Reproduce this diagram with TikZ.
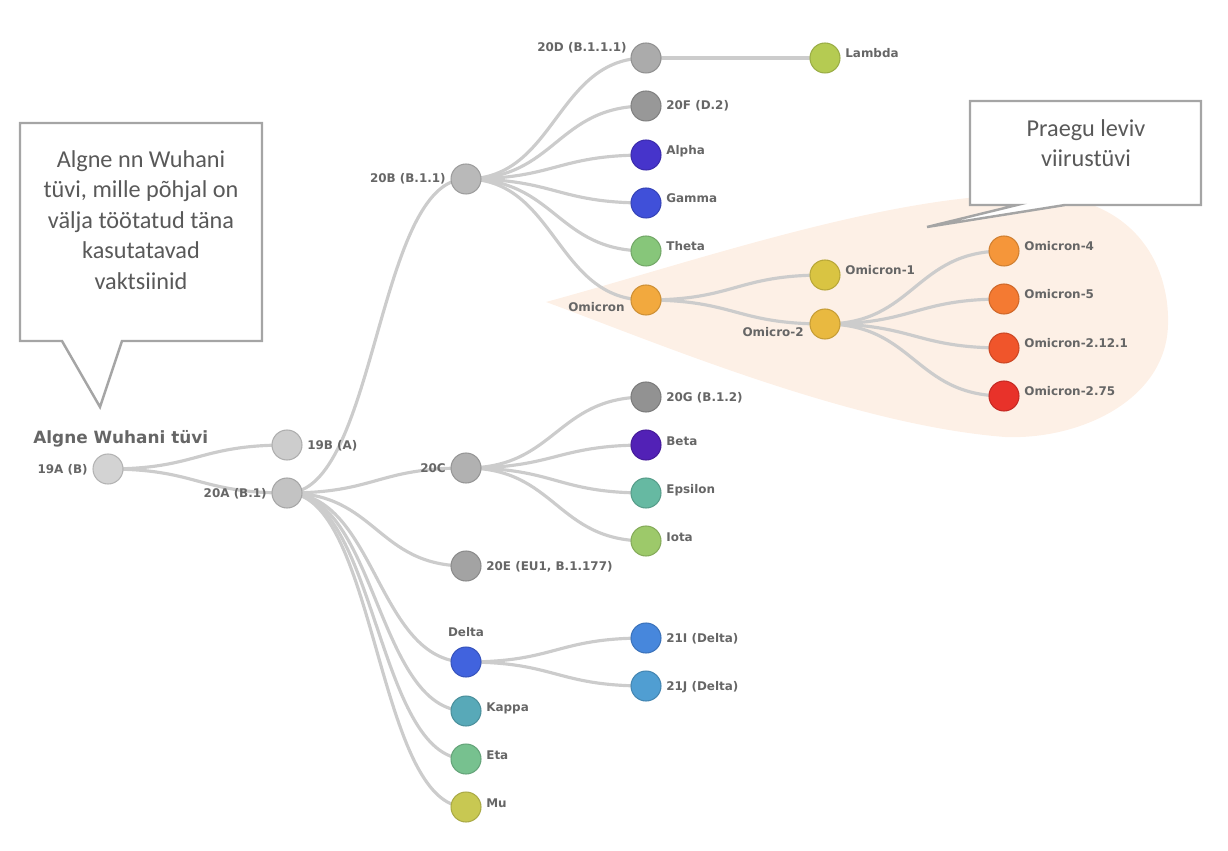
\documentclass[tikz,border=0pt]{standalone}
\usepackage{fontspec}
\newfontfamily\vfont{DejaVu Sans}
\newfontfamily\cfont{Carlito}
\usetikzlibrary{calc,backgrounds}
\definecolor{edgec}{HTML}{CCCCCC}
\definecolor{lblc}{HTML}{666666}
\definecolor{boxc}{HTML}{A5A5A5}
\definecolor{ctext}{HTML}{595959}
\definecolor{peach}{HTML}{FDF0E6}
\definecolor{cA}{HTML}{D3D3D3}
\definecolor{cB}{HTML}{CDCDCD}
\definecolor{cAA}{HTML}{C3C3C3}
\definecolor{cBB}{HTML}{B9B9B9}
\definecolor{cC}{HTML}{B1B1B1}
\definecolor{cE}{HTML}{A3A3A3}
\definecolor{cD}{HTML}{ABABAB}
\definecolor{cF}{HTML}{989898}
\definecolor{cG}{HTML}{929292}
\definecolor{cAlpha}{HTML}{4634CB}
\definecolor{cGamma}{HTML}{4050D9}
\definecolor{cTheta}{HTML}{87C67A}
\definecolor{cOmi}{HTML}{F2A93E}
\definecolor{cLambda}{HTML}{B5CB52}
\definecolor{cOmA}{HTML}{D9C442}
\definecolor{cOmB}{HTML}{E9B940}
\definecolor{cOmD}{HTML}{F5963A}
\definecolor{cOmE}{HTML}{F47A32}
\definecolor{cOmF}{HTML}{F0552B}
\definecolor{cOmG}{HTML}{E8322A}
\definecolor{cBeta}{HTML}{5221B6}
\definecolor{cEps}{HTML}{66B9A2}
\definecolor{cIota}{HTML}{9DC96A}
\definecolor{cDelta}{HTML}{4163DE}
\definecolor{cTI}{HTML}{4787DC}
\definecolor{cTJ}{HTML}{509ED2}
\definecolor{cKappa}{HTML}{58A9B8}
\definecolor{cEta}{HTML}{77C18F}
\definecolor{cMu}{HTML}{C8C852}
\tikzset{
  vn/.style={circle, minimum size=0.6cm, inner sep=0pt, line width=0.6pt, fill=#1, draw=#1!85!black},
  edge/.style={draw=edgec, line width=1.8pt},
  lbl/.style={font=\vfont\bfseries\fontsize{6.8}{8}\selectfont, text=lblc, inner sep=0pt},
  callout/.style={draw=boxc, fill=white, line width=1.4pt, line join=miter},
  ctxt/.style={font=\cfont\fontsize{13.8}{17.4}\selectfont, text=ctext, align=center, inner sep=0pt},
}
\newcommand\br[2]{\path ($(#1.center)!0.5!(#2.center)$) coordinate (mid);
  \draw[edge] (#1.center) .. controls (mid |- #1.center) and (mid |- #2.center) .. (#2.center);}
\begin{document}
\begin{tikzpicture}[x=0.02cm,y=-0.02cm]
\useasboundingbox (0,0) rectangle (1228,851);
% nodes
\node[vn=cA] (n19A) at (108,469) {};
\node[vn=cB] (n19B) at (287,445) {};
\node[vn=cAA] (n20A) at (287,493) {};
\node[vn=cBB] (n20B) at (466,179) {};
\node[vn=cC] (n20C) at (466,468) {};
\node[vn=cE] (n20E) at (466,566) {};
\node[vn=cDelta] (delta) at (466,662) {};
\node[vn=cKappa] (kappa) at (466,711) {};
\node[vn=cEta] (eta) at (466,759) {};
\node[vn=cMu] (mu) at (466,807) {};
\node[vn=cD] (n20D) at (646,58) {};
\node[vn=cF] (n20F) at (646,106) {};
\node[vn=cAlpha] (alpha) at (646,155) {};
\node[vn=cGamma] (gamma) at (646,203) {};
\node[vn=cTheta] (theta) at (646,251) {};
\node[vn=cOmi] (omi) at (646,300) {};
\node[vn=cG] (n20G) at (646,397) {};
\node[vn=cBeta] (beta) at (646,445) {};
\node[vn=cEps] (eps) at (646,493) {};
\node[vn=cIota] (iota) at (646,541) {};
\node[vn=cTI] (t21I) at (646,638) {};
\node[vn=cTJ] (t21J) at (646,686) {};
\node[vn=cLambda] (lambda) at (825,58) {};
\node[vn=cOmA] (om1) at (825,275) {};
\node[vn=cOmB] (om2) at (825,324) {};
\node[vn=cOmD] (om4) at (1004,251) {};
\node[vn=cOmE] (om5) at (1004,299) {};
\node[vn=cOmF] (om2121) at (1004,348) {};
\node[vn=cOmG] (om275) at (1004,396) {};
% background: highlight and edges
\begin{pgfonlayer}{background}
\fill[peach] (546,302) .. controls (700,260) and (900,190) .. (1040,195)
  .. controls (1130,198) and (1170,260) .. (1168,325)
  .. controls (1166,400) and (1080,440) .. (1005,437)
  .. controls (850,425) and (650,340) .. (546,302) -- cycle;
\br{n19A}{n19B}\br{n19A}{n20A}
\br{n20A}{n20B}\br{n20A}{n20C}\br{n20A}{n20E}\br{n20A}{delta}\br{n20A}{kappa}\br{n20A}{eta}\br{n20A}{mu}
\br{n20B}{n20D}\br{n20B}{n20F}\br{n20B}{alpha}\br{n20B}{gamma}\br{n20B}{theta}\br{n20B}{omi}
\draw[edge] (n20D.center) -- (lambda.center);
\br{omi}{om1}\br{omi}{om2}
\br{om2}{om4}\br{om2}{om5}\br{om2}{om2121}\br{om2}{om275}
\br{n20C}{n20G}\br{n20C}{beta}\br{n20C}{eps}\br{n20C}{iota}
\br{delta}{t21I}\br{delta}{t21J}
\end{pgfonlayer}
% labels: right, raised
\foreach \n/\t in {alpha/Alpha, gamma/Gamma, theta/Theta, lambda/Lambda, om1/Omicron-1, om4/Omicron-4, om5/Omicron-5, om2121/Omicron-2.12.1, om275/Omicron-2.75, beta/Beta, eps/Epsilon, iota/Iota, kappa/Kappa, eta/Eta, mu/Mu}
  \node[lbl, anchor=base west] (l-\n) at ($(\n.center)+(20,0)$) {\t};
% labels: right, centred
\foreach \n/\t in {n19B/19B (A), n20F/20F (D.2), n20E/{20E (EU1, B.1.177)}, n20G/20G (B.1.2), t21I/21I (Delta), t21J/21J (Delta)}
  \node[lbl, anchor=base west] (l-\n) at ($(\n.center)+(20,4)$) {\t};
% labels: left, centred
\foreach \n/\t in {n19A/19A (B), n20A/20A (B.1), n20B/20B (B.1.1), n20C/20C}
  \node[lbl, anchor=base east] (l-\n) at ($(\n.center)+(-20,4)$) {\t};
\node[lbl, anchor=base east] (l-omi) at ($(omi.center)+(-21,12)$) {Omicron};
\node[lbl, anchor=base east] (l-om2) at ($(om2.center)+(-21,13)$) {Omicro-2};
\node[lbl, anchor=base east] (l-n20D) at ($(n20D.center)+(-19,-6)$) {20D (B.1.1.1)};
\node[lbl, anchor=base] (l-delta) at ($(delta.center)+(0,-26)$) {Delta};
\node[lbl, anchor=base west, font=\vfont\bfseries\fontsize{9.6}{11}\selectfont] (title) at (33,443) {Algne Wuhani tüvi};
% callouts
\draw[callout] (20,123) -- (262,123) -- (262,341) -- (122,341) -- (100,407) -- (62,341) -- (20,341) -- cycle;
\node[ctxt, anchor=north] (c1) at (141,150) {Algne nn Wuhani\\tüvi, mille põhjal on\\välja töötatud täna\\kasutatavad\\vaktsiinid};
\draw[callout] (970,101) -- (1201,101) -- (1201,205) -- (1065,205) -- (927,227) -- (1017,205) -- (970,205) -- cycle;
\node[ctxt, anchor=north] (c2) at (1086,119) {Praegu leviv\\viirustüvi};
\end{tikzpicture}
\end{document}
